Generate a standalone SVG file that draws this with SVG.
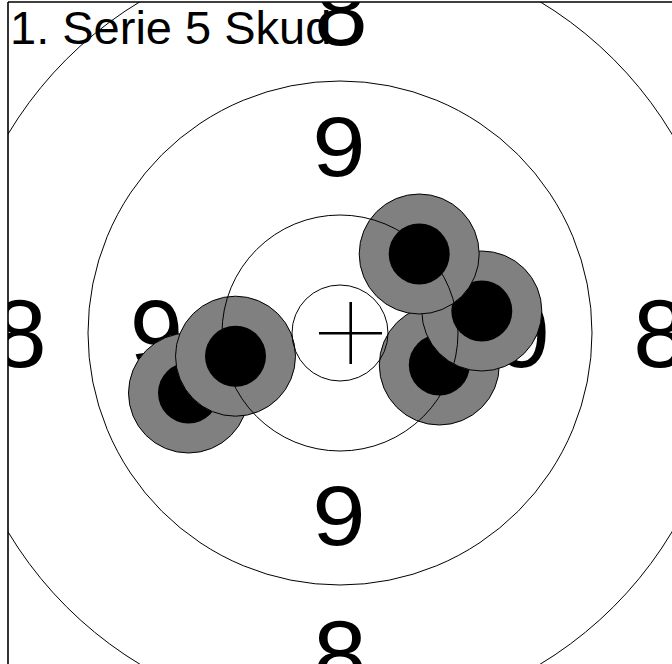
<svg xmlns="http://www.w3.org/2000/svg" width="672" height="664" viewBox="0 0 672 664">
<defs>
<style>
.ring{fill:none;stroke:#000;stroke-width:1}
.lbl{font-family:"Liberation Sans",Arial,sans-serif;font-size:96px;fill:#000;text-anchor:middle}
.shot{fill:#808080;stroke:#000;stroke-width:1}
.core{fill:#000}
.title{font-family:"Liberation Sans",Arial,sans-serif;font-size:47px;fill:#000}
</style>
<clipPath id="frame"><rect x="8" y="2" width="700" height="700"/></clipPath>
</defs>
<rect width="672" height="664" fill="#fff"/>
<g clip-path="url(#frame)">
<g id="labels">
<text class="lbl" x="341" y="45">8</text>
<text class="lbl" x="340" y="688">8</text>
<text class="lbl" x="20" y="367">8</text>
<text class="lbl" x="660" y="367">8</text>
<text class="lbl" transform="translate(339,176) scale(1,0.887)">9</text>
<text class="lbl" transform="translate(339,544.7) scale(1,0.887)">9</text>
<text class="lbl" x="156.5" y="367">9</text>
<text class="lbl" x="523.5" y="367">9</text>
</g>
<g id="shots">
<g id="shot1"><circle class="shot" cx="188.5" cy="393" r="60"/><circle class="core" cx="188.5" cy="393" r="30.5"/></g>
<g id="shot2"><circle class="shot" cx="235.5" cy="356.2" r="60"/><circle class="core" cx="235.5" cy="356.2" r="30.5"/></g>
<g id="shot3"><circle class="shot" cx="439.3" cy="365" r="60"/><circle class="core" cx="439.3" cy="365" r="30.5"/></g>
<g id="shot4"><circle class="shot" cx="481.8" cy="311" r="60"/><circle class="core" cx="481.8" cy="311" r="30.5"/></g>
<g id="shot5"><circle class="shot" cx="419.2" cy="254" r="60"/><circle class="core" cx="419.2" cy="254" r="30.5"/></g>
</g>
<g id="rings">
<circle class="ring" cx="340" cy="333" r="387"/>
<circle class="ring" cx="340" cy="333" r="252"/>
<circle class="ring" cx="340" cy="333" r="118"/>
<circle class="ring" cx="340" cy="333" r="48"/>
</g>
<g id="cross" stroke="#000" stroke-width="2.6">
<line x1="319" y1="333.3" x2="382" y2="333.3"/>
<line x1="350.7" y1="302" x2="350.7" y2="364"/>
</g>
<text id="title" class="title" x="10" y="43.5">1. Serie 5 Skud</text>
</g>
<g id="border" stroke="#000" stroke-width="1.6">
<line x1="8" y1="2" x2="672" y2="2"/>
<line x1="8" y1="2" x2="8" y2="664"/>
</g>
</svg>
